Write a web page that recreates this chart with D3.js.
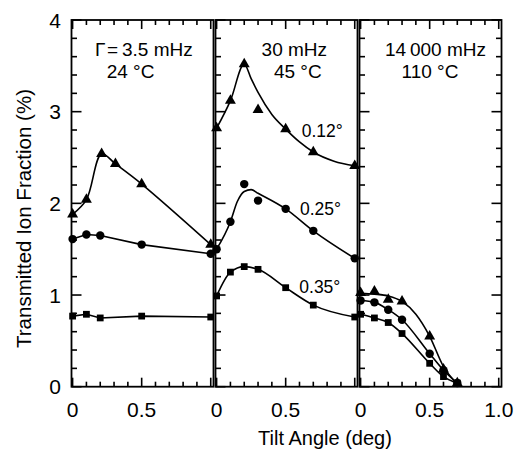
<!DOCTYPE html>
<html><head><meta charset="utf-8">
<script src="https://cdn.jsdelivr.net/npm/d3@7"></script>
<style>
html,body{margin:0;padding:0;background:#fff;}
svg text{font-family:"Liberation Sans",Arial,Helvetica,sans-serif;fill:#000;}
</style></head>
<body><svg id="c" width="518" height="452"></svg>
<script>
// ---- data ----
const yTickLabels = ["0","1","2","3","4"];
const panelXTickLabels = [["0","0.5"],["0","0.5"],["0","0.5","1.0"]];
const panelLine1 = ["\u0393\u200A=\u20093.5 mHz","30 mHz","14\u2009000 mHz"];
const panelLine2 = ["24 \u00B0C","45 \u00B0C","110 \u00B0C"];
const curveLabels = ["0.12\u00B0","0.25\u00B0","0.35\u00B0"];

// panel 1 (3.5 mHz, 24 °C)
const p1TriAngle = [0, 0.1, 0.21, 0.31, 0.5, 1.0];
const p1Tri      = [1.88, 2.04, 2.54, 2.43, 2.21, 1.55];
const p1Angle    = [0, 0.1, 0.2, 0.5, 1.0];
const p1Circ     = [1.61, 1.66, 1.65, 1.55, 1.45];
const p1Sq       = [0.77, 0.79, 0.75, 0.77, 0.76];

// panel 2 (30 mHz, 45 °C)
const p2Angle = [0, 0.1, 0.2, 0.3, 0.5, 0.7, 1.0];
const p2Tri   = [2.82, 3.12, 3.52, 3.02, 2.81, 2.56, 2.41];
const p2Circ  = [1.50, 1.80, 2.21, 2.03, 1.94, 1.70, 1.40];
const p2Sq    = [0.99, 1.25, 1.31, 1.28, 1.08, 0.89, 0.76];
// fitted curves
const p2TriFitAngle  = [0, 0.1, 0.2, 0.25, 0.3, 0.4, 0.5, 0.6, 0.7, 0.85, 1.0];
const p2TriFit       = [2.82, 3.12, 3.52, 3.36, 3.21, 2.97, 2.81, 2.67, 2.56, 2.46, 2.41];
const p2CircFitAngle = [0, 0.1, 0.15, 0.2, 0.25, 0.3, 0.5, 0.7, 1.0];
const p2CircFit      = [1.50, 1.80, 2.02, 2.13, 2.15, 2.11, 1.94, 1.70, 1.40];

// panel 3 (14 000 mHz, 110 °C)
const p3Angle = [0, 0.1, 0.2, 0.3, 0.5, 0.6, 0.7];
const p3Tri   = [1.025, 1.04, 0.95, 0.93, 0.55, 0.19, 0.04];
const p3Circ  = [0.94, 0.92, 0.84, 0.73, 0.36, 0.18, 0.04];
const p3Sq    = [0.79, 0.75, 0.70, 0.58, 0.255, 0.11, 0.04];
const p3TriFitAngle = [0, 0.1, 0.2, 0.3, 0.4, 0.5, 0.6, 0.7];
const p3TriFit      = [1.02, 1.01, 0.99, 0.93, 0.79, 0.55, 0.22, 0.03];

// ---- layout ----
const svg = d3.select("#c");
const plotTop = 20, plotBottom = 386.7;
const panelX = [[71.5,213.5],[215.5,357.5],[359.5,501.5]];
const y = d3.scaleLinear().domain([0,4]).range([plotBottom, plotTop]);
const zip = (a,b)=>a.map((v,i)=>[v,b[i]]);

const panels = [
  {series:[
    {pts:zip(p1TriAngle,p1Tri), sym:"tri", curve:d3.curveCatmullRom},
    {pts:zip(p1Angle,p1Circ), sym:"circ", curve:d3.curveLinear},
    {pts:zip(p1Angle,p1Sq), sym:"sq", curve:d3.curveLinear}]},
  {series:[
    {pts:zip(p2Angle,p2Tri), fit:zip(p2TriFitAngle,p2TriFit), sym:"tri", curve:d3.curveMonotoneX},
    {pts:zip(p2Angle,p2Circ), fit:zip(p2CircFitAngle,p2CircFit), sym:"circ", curve:d3.curveMonotoneX},
    {pts:zip(p2Angle,p2Sq), sym:"sq", curve:d3.curveMonotoneX}]},
  {series:[
    {pts:zip(p3Angle,p3Tri), fit:zip(p3TriFitAngle,p3TriFit), sym:"tri", curve:d3.curveMonotoneX},
    {pts:zip(p3Angle,p3Circ), sym:"circ", curve:d3.curveMonotoneX},
    {pts:zip(p3Angle,p3Sq), sym:"sq", curve:d3.curveMonotoneX}]}
];

const symGen = {
  tri: d3.symbol().type(d3.symbolTriangle).size(52),
  circ: d3.symbol().type(d3.symbolCircle).size(56),
  sq: d3.symbol().type(d3.symbolSquare).size(46)
};

panels.forEach((p,i)=>{
  const x = d3.scaleLinear().domain([-0.008,1.02]).range(panelX[i]);
  const g = svg.append("g");
  p.series.forEach(s=>{
    const line = d3.line().x(d=>x(d[0])).y(d=>y(d[1])).curve(s.curve);
    g.append("path").attr("d", line(s.fit || s.pts))
      .attr("fill","none").attr("stroke","#000").attr("stroke-width",1.6);
  });
  p.series.forEach(s=>{
    g.selectAll(null).data(s.pts).enter().append("path")
      .attr("d", symGen[s.sym])
      .attr("transform", d=>`translate(${x(d[0])},${y(d[1])})`)
      .attr("fill","#000");
  });
  g.append("rect").attr("x",panelX[i][0]).attr("y",plotTop)
    .attr("width",panelX[i][1]-panelX[i][0]).attr("height",plotBottom-plotTop)
    .attr("fill","none").attr("stroke","#000").attr("stroke-width",1.8);
  const xt = d3.range(0,11).map(k=>k/10);
  xt.forEach(v=>{
    const major = Math.abs(v*2-Math.round(v*2))<1e-6;
    const len = major?9:5;
    g.append("line").attr("x1",x(v)).attr("x2",x(v)).attr("y1",plotBottom).attr("y2",plotBottom-len)
      .attr("stroke","#000").attr("stroke-width",1.6);
    g.append("line").attr("x1",x(v)).attr("x2",x(v)).attr("y1",plotTop).attr("y2",plotTop+len)
      .attr("stroke","#000").attr("stroke-width",1.6);
  });
  const yt = d3.range(0,21).map(k=>k/5);
  const addYTicks = (x0,dir)=>{
    yt.forEach(v=>{
      const major = Math.abs(v-Math.round(v))<1e-6;
      const len = major?10:5.5;
      g.append("line").attr("x1",x0).attr("x2",x0+dir*len).attr("y1",y(v)).attr("y2",y(v))
        .attr("stroke","#000").attr("stroke-width",1.6);
    });
  };
  addYTicks(panelX[i][0],1);
  if(i===2) addYTicks(panelX[i][1],-1);
  panelXTickLabels[i].forEach(t=>{
    g.append("text").attr("x",x(+t)).attr("y",417).attr("text-anchor","middle")
      .attr("font-size",21).text(t);
  });
});

yTickLabels.forEach(t=>{
  svg.append("text").attr("x",61).attr("y",y(+t)).attr("dy","0.36em")
    .attr("text-anchor","end").attr("font-size",21).text(t);
});

const lab1X = [95,294.3,435.5], lab1Anchor = ["start","middle","middle"];
const lab2X = [130.5,297.8,430];
panelLine1.forEach((t,i)=>svg.append("text").attr("x",lab1X[i]).attr("y",55.5)
  .attr("text-anchor",lab1Anchor[i]).attr("font-size",19).text(t));
panelLine2.forEach((t,i)=>svg.append("text").attr("x",lab2X[i]).attr("y",78.3)
  .attr("text-anchor","middle").attr("font-size",19).text(t));

const clX=[301.7,300,299.3], clY=[137.3,215,293.3];
curveLabels.forEach((t,i)=>svg.append("text").attr("x",clX[i]).attr("y",clY[i])
  .attr("font-size",17.5).text(t));

svg.append("text").attr("x",325).attr("y",445).attr("text-anchor","middle")
  .attr("font-size",20).text("Tilt Angle (deg)");
svg.append("text").attr("transform","translate(31,218.5) rotate(-90)")
  .attr("text-anchor","middle").attr("font-size",20.5).text("Transmitted Ion Fraction (%)");
</script></body></html>
